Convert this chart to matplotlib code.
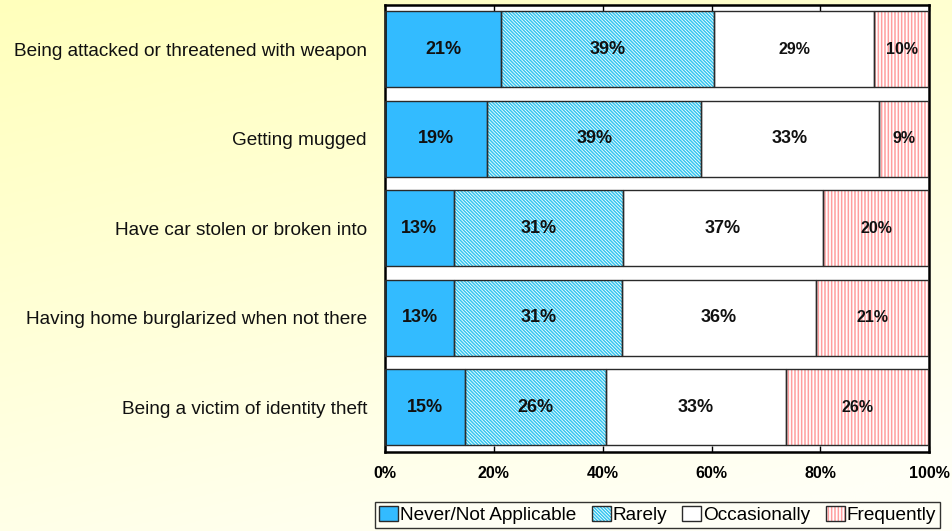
import numpy as np
import matplotlib
matplotlib.use("Agg")
import matplotlib.pyplot as plt

plt.rcParams['font.family'] = ['Liberation Sans', 'DejaVu Sans']
plt.rcParams['hatch.linewidth'] = 1.1

# data (percent of respondents)
categories = ['Being attacked or threatened with weapon',
              'Getting mugged',
              'Have car stolen or broken into',
              'Having home burglarized when not there',
              'Being a victim of identity theft']
series = ['Never/Not Applicable', 'Rarely', 'Occasionally', 'Frequently']
never = [21.3, 18.8, 12.6, 12.7, 14.7]
rarely = [39.2, 39.3, 31.1, 30.9, 25.9]
occasionally = [29.4, 32.6, 36.7, 35.6, 33.1]
frequently = [10.1, 9.4, 19.7, 20.8, 26.3]
xticks = [0, 20, 40, 60, 80, 100]

values = [never, rarely, occasionally, frequently]
# face, hatch, hatch colour
styles = [('#33BBFF', '', None),
          ('white', '\\' * 10, '#33C6F0'),
          ('white', '', None),
          ('white', '|' * 5, '#FF9E9E')]

fig = plt.figure(figsize=(9.53, 5.31), dpi=100)

# yellow gradient background
bg = fig.add_axes([0, 0, 1, 1], zorder=-10)
yy, xx = np.mgrid[0:1:200j, 0:1:200j]
t = np.clip(0.75 * yy + 0.35 * xx, 0, 1)
top = np.array([255, 255, 188]) / 255
bot = np.array([255, 255, 246]) / 255
img = top[None, None, :] * (1 - t[..., None]) + bot[None, None, :] * t[..., None]
bg.imshow(img, aspect='auto', extent=[0, 1, 0, 1])
bg.axis('off')

ax = fig.add_axes([0.404, 0.149, 0.571, 0.842])
ax.set_facecolor('white')
y = np.arange(len(categories))
left = np.zeros(len(categories))
handles = []
for i, (name, vals) in enumerate(zip(series, values)):
    face, hatch, hcol = styles[i]
    vals = np.array(vals)
    if hatch:
        h1 = ax.barh(y, vals, left=left, height=0.85, color=face, hatch=hatch,
                     edgecolor=hcol, linewidth=0, zorder=2)
    else:
        h1 = ax.barh(y, vals, left=left, height=0.85, color=face, linewidth=0, zorder=2)
    h2 = ax.barh(y, vals, left=left, height=0.85, fill=False,
                 edgecolor='#2a2a2a', linewidth=1.0, zorder=3)
    handles.append((h1[0], h2[0]))
    for j, v in enumerate(vals):
        fs = 13
        if i == 3 or (i == 2 and j == 0):
            fs = 11.5
        ax.text(left[j] + v / 2, y[j], f'{v:.0f}%', ha='center', va='center',
                fontsize=fs, fontweight='bold', color='#111111', zorder=4)
    left += vals

ax.set_xlim(0, 100)
ax.set_ylim(len(categories) - 0.5, -0.5)
ax.set_yticks(y)
ax.set_yticklabels(categories, fontsize=13.7, color='#111111')
ax.tick_params(axis='y', length=0, pad=13)
ax.set_xticks(xticks)
ax.set_xticklabels([f'{v}%' for v in xticks], fontsize=11.5, fontweight='bold')
ax.tick_params(axis='x', direction='in', length=4, width=1, top=True, pad=10)
for s in ax.spines.values():
    s.set_linewidth(1.8)
    s.set_color('black')

leg = fig.legend(handles, series, loc='center', bbox_to_anchor=(0.690, 0.030),
                 ncol=4, fontsize=13.7, frameon=True, fancybox=False,
                 handlelength=1.0, handleheight=0.85, handletextpad=0.1,
                 columnspacing=0.8, borderpad=0.2, borderaxespad=0)
leg.get_frame().set_edgecolor('black')
leg.get_frame().set_linewidth(1.0)
leg.get_frame().set_facecolor('#FFFFF6')

fig.savefig('out.png', dpi=100)
